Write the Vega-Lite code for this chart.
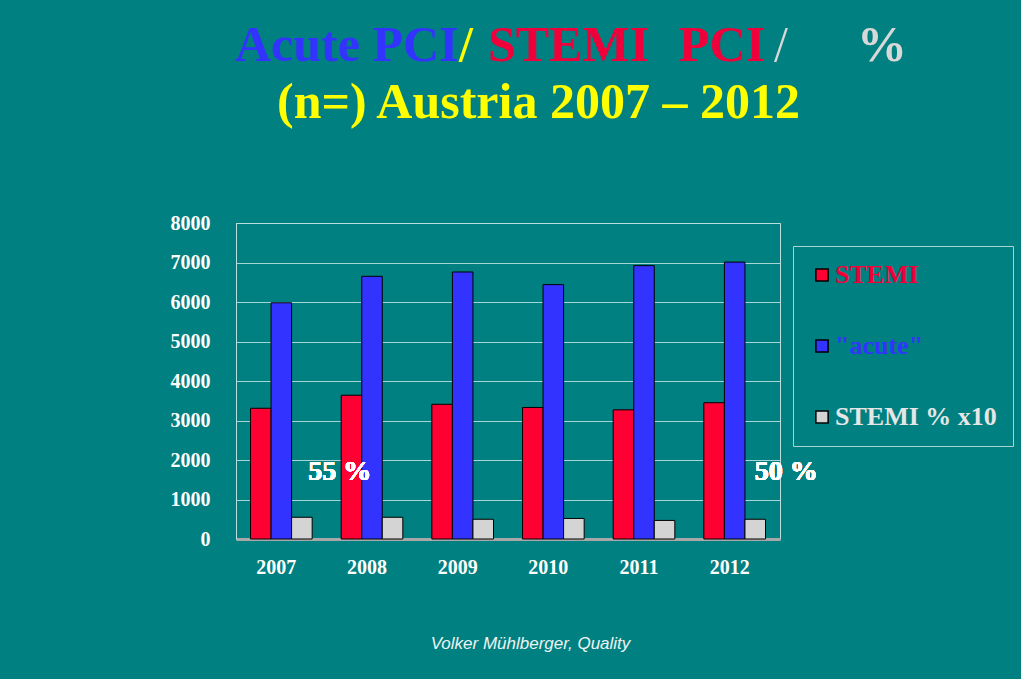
{
  "$schema": "https://vega.github.io/schema/vega-lite/v6.json",
  "background": "#008080",
  "padding": {"left": 169, "top": 20, "right": 7, "bottom": 27},
  "autosize": {"type": "pad"},
  "config": {
    "view": {"stroke": null},
    "title": {"font": "Liberation Serif", "fontWeight": "bold", "fontSize": 50, "anchor": "start", "offset": 0},
    "axis": {"labelFont": "Liberation Serif", "labelFontWeight": "bold", "labelFontSize": 20, "labelColor": "#ffffff"}
  },
  "spacing": -4,
  "vconcat": [
    {
      "spacing": 0,
      "hconcat": [
        {"data": {"values": [{"k": 1}]}, "width": 221, "height": 1, "mark": {"type": "point", "opacity": 0}, "encoding": {}, "title": {"text": "Acute PCI", "color": "#3333ff", "dx": -1}},
        {"data": {"values": [{"k": 1}]}, "width": 29, "height": 1, "mark": {"type": "point", "opacity": 0}, "encoding": {}, "title": {"text": "/", "color": "#ffff00"}},
        {"data": {"values": [{"k": 1}]}, "width": 191, "height": 1, "mark": {"type": "point", "opacity": 0}, "encoding": {}, "title": {"text": "STEMI", "color": "#f0003a"}},
        {"data": {"values": [{"k": 1}]}, "width": 95, "height": 1, "mark": {"type": "point", "opacity": 0}, "encoding": {}, "title": {"text": "PCI", "color": "#f0003a"}},
        {"data": {"values": [{"k": 1}]}, "width": 83, "height": 1, "mark": {"type": "point", "opacity": 0}, "encoding": {}, "title": {"text": "/", "color": "#d8d8d8", "fontWeight": "normal"}},
        {"data": {"values": [{"k": 1}]}, "width": 41, "height": 1, "mark": {"type": "point", "opacity": 0}, "encoding": {}, "title": {"text": "%", "color": "#d8d8d8"}}
      ]
    },
    {
      "width": 544,
      "height": 316,
      "view": {"stroke": "#b8dede", "strokeWidth": 1},
      "title": {"text": "(n=) Austria 2007 – 2012", "color": "#ffff00", "dx": 107, "offset": 85},
      "data": {
        "values": [
          {"year": "2007", "series": "STEMI", "value": 3310},
          {"year": "2007", "series": "\"acute\"", "value": 5980},
          {"year": "2007", "series": "STEMI % x10", "value": 550},
          {"year": "2008", "series": "STEMI", "value": 3640},
          {"year": "2008", "series": "\"acute\"", "value": 6650},
          {"year": "2008", "series": "STEMI % x10", "value": 550},
          {"year": "2009", "series": "STEMI", "value": 3410},
          {"year": "2009", "series": "\"acute\"", "value": 6760},
          {"year": "2009", "series": "STEMI % x10", "value": 500},
          {"year": "2010", "series": "STEMI", "value": 3330},
          {"year": "2010", "series": "\"acute\"", "value": 6440},
          {"year": "2010", "series": "STEMI % x10", "value": 520},
          {"year": "2011", "series": "STEMI", "value": 3270},
          {"year": "2011", "series": "\"acute\"", "value": 6920},
          {"year": "2011", "series": "STEMI % x10", "value": 470},
          {"year": "2012", "series": "STEMI", "value": 3450},
          {"year": "2012", "series": "\"acute\"", "value": 7010},
          {"year": "2012", "series": "STEMI % x10", "value": 500}
        ]
      },
      "encoding": {
        "y": {
          "type": "quantitative",
          "scale": {"domain": [0, 8000], "nice": false},
          "axis": {
            "title": null, "values": [0, 1000, 2000, 3000, 4000, 5000, 6000, 7000, 8000],
            "format": "d", "labelOverlap": false,
            "ticks": false, "tickSize": 0, "labelPadding": 26,
            "gridColor": "#b8dede", "gridWidth": 1, "gridOpacity": 0.9,
            "domainColor": "#b8dede"
          }
        }
      },
      "layer": [
        {
          "mark": {"type": "bar", "stroke": "#000000", "strokeWidth": 1},
          "encoding": {
            "x": {
              "field": "year", "type": "nominal",
              "scale": {"paddingInner": 0.32, "paddingOuter": 0.16},
              "axis": {
                "title": "Volker Mühlberger, Quality",
                "titleFont": "Liberation Sans", "titleFontStyle": "italic", "titleFontWeight": "normal",
                "titleFontSize": 17, "titleColor": "#eef4f4", "titlePadding": 58,
                "titleX": 294, "titleAlign": "center",
                "labelAngle": 0, "labelPadding": 18, "labelOffset": -5,
                "ticks": false, "tickSize": 0, "domainColor": "#a8a8a8", "domainWidth": 3
              }
            },
            "xOffset": {"field": "series", "type": "nominal", "scale": {"domain": ["STEMI", "\"acute\"", "STEMI % x10"], "paddingInner": 0, "paddingOuter": 0}},
            "y": {"field": "value"},
            "color": {
              "field": "series", "type": "nominal",
              "scale": {"domain": ["STEMI", "\"acute\"", "STEMI % x10"], "range": ["#ff0033", "#3333ff", "#d4d4d4"]},
              "legend": {
                "orient": "none", "legendX": 557, "legendY": 169, "title": null,
                "strokeColor": "#a8d4d4", "padding": 16, "rowPadding": 45,
                "symbolType": "square", "symbolSize": 150, "symbolStrokeColor": "#000000", "symbolStrokeWidth": 1.5,
                "labelFont": "Liberation Serif", "labelFontWeight": "bold", "labelFontSize": 26, "labelOffset": 0, "labelLimit": 300,
                "encode": {"labels": {"update": {"fill": {"signal": "datum.value === 'STEMI' ? '#f0003a' : (datum.value === 'STEMI % x10' ? '#e6e6e6' : '#3333ff')"}}}}
              }
            }
          }
        },
        {
          "mark": {"type": "text", "font": "Liberation Serif", "fontWeight": "bold", "fontSize": 28, "color": "#ffffff", "align": "left", "baseline": "alphabetic", "dx": 27},
          "encoding": {"x": {"datum": "2007"}, "y": {"datum": 1500}, "text": {"value": "55 %"}}
        },
        {
          "mark": {"type": "text", "font": "Liberation Serif", "fontWeight": "bold", "fontSize": 28, "color": "#ffffff", "align": "left", "baseline": "alphabetic", "dx": 20},
          "encoding": {"x": {"datum": "2012"}, "y": {"datum": 1500}, "text": {"value": "50 %"}}
        }
      ]
    }
  ]
}
